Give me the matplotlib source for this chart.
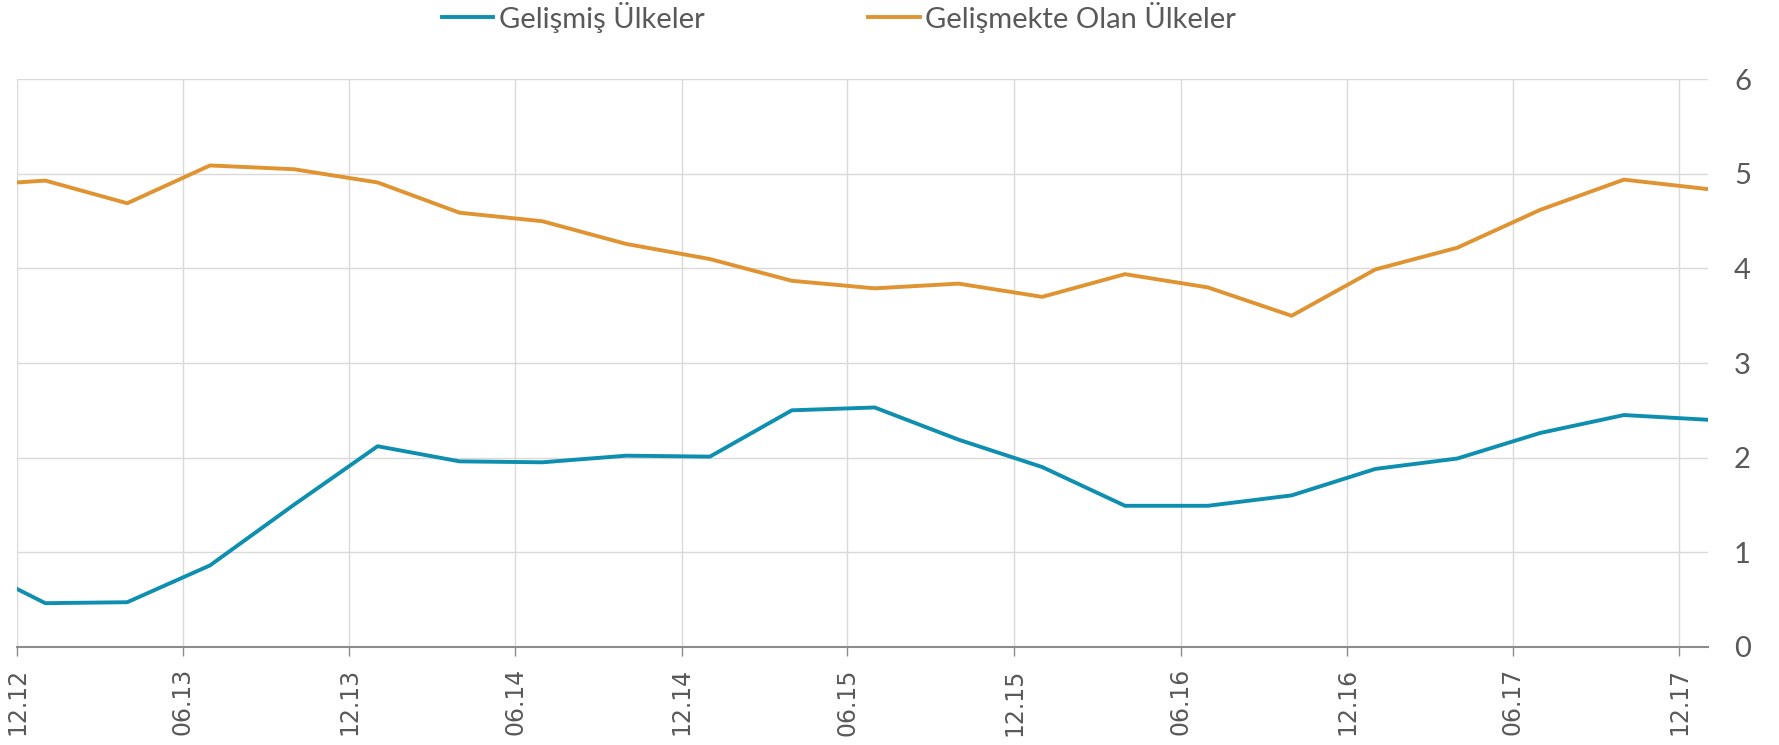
import matplotlib.pyplot as plt
import matplotlib.dates as mdates
import pandas as pd

dates = pd.to_datetime(['2012-12-01', '2013-01-01', '2013-04-01', '2013-07-01', '2013-10-01',
                        '2014-01-01', '2014-04-01', '2014-07-01', '2014-10-01',
                        '2015-01-01', '2015-04-01', '2015-07-01', '2015-10-01',
                        '2016-01-01', '2016-04-01', '2016-07-01', '2016-10-01',
                        '2017-01-01', '2017-04-01', '2017-07-01', '2017-10-01',
                        '2018-01-01'])
gelismis = [0.61, 0.46, 0.47, 0.86, 1.50, 2.12, 1.96, 1.95, 2.02, 2.01, 2.50,
            2.53, 2.19, 1.90, 1.49, 1.49, 1.60, 1.88, 1.99, 2.26, 2.45, 2.40]
gelismekte = [4.91, 4.93, 4.69, 5.09, 5.05, 4.91, 4.59, 4.50, 4.26, 4.10, 3.87,
              3.79, 3.84, 3.70, 3.94, 3.80, 3.50, 3.99, 4.22, 4.62, 4.94, 4.84]
tick_dates = pd.date_range('2012-12-01', '2017-12-01', freq='6MS')
labels = ['Gelişmiş Ülkeler', 'Gelişmekte Olan Ülkeler']

fig = plt.figure(figsize=(17.79, 7.45), dpi=100)
ax = fig.add_axes([0.0096, 0.132, 0.9503, 0.7614])

ax.plot(dates, gelismis, color='#0e8fb0', lw=2.8, label=labels[0])
ax.plot(dates, gelismekte, color='#df9331', lw=2.8, label=labels[1])

ax.set_xlim(pd.Timestamp('2012-12-01'), pd.Timestamp('2018-01-01'))
ax.set_ylim(0, 6)
ax.set_yticks(range(0, 7))
ax.set_xticks(tick_dates)
ax.xaxis.set_major_formatter(mdates.DateFormatter('%m.%y'))

ax.grid(True, color='#d9d9d9', lw=1)
ax.set_axisbelow(True)
for s in ['top', 'left', 'right']:
    ax.spines[s].set_visible(False)
ax.spines['bottom'].set_color('#8c8c8c')
ax.spines['bottom'].set_linewidth(1.5)

ax.yaxis.tick_right()
ax.tick_params(axis='y', length=0, pad=19, labelsize=21, labelcolor='#595959')
ax.tick_params(axis='x', length=6.5, width=1, color='#8c8c8c', pad=9,
               labelsize=17, labelcolor='#595959', labelrotation=90)
for t in ax.get_yticklabels():
    t.set_fontfamily('Lato')

fig.legend(loc='center', bbox_to_anchor=(0.4717, 0.977), ncol=2, frameon=False,
           prop={'family': 'Lato', 'size': 21},
           handlelength=1.76, handletextpad=0.2, columnspacing=5.6,
           labelcolor='#595959')

fig.savefig('out.png', dpi=100)
